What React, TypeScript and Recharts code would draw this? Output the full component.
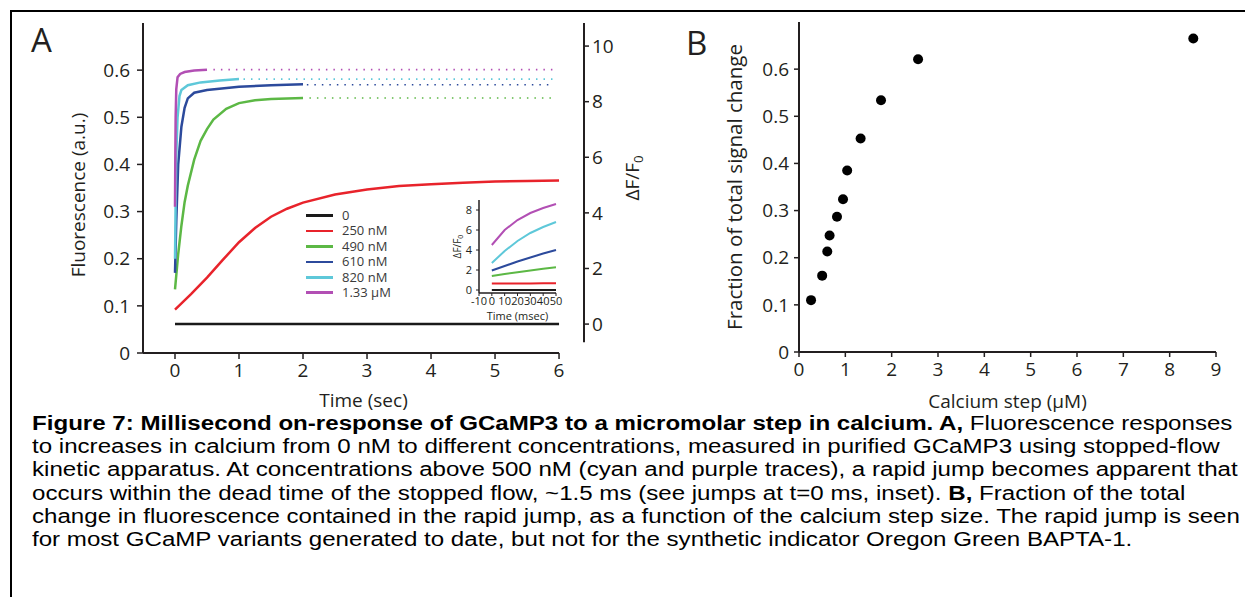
import React from 'react';
import {
  LineChart,
  Line,
  XAxis,
  YAxis,
  Legend,
  Label,
  ReferenceLine,
  ScatterChart,
  Scatter
} from 'recharts';

const FONT = '"Open Sans", sans-serif';
const INK = '#231f20';

// Panel A: stopped-flow traces (time in sec, fluorescence in a.u.)
const t0 = [0, 6];
const f0 = [0.059, 0.059];
const dff0 = [0, 0]; // same trace read on the dF/F0 axis
const t250 = [0, 0.25, 0.5, 0.75, 1, 1.25, 1.5, 1.75, 2, 2.5, 3, 3.5, 4, 4.5, 5, 5.5, 6];
const f250 = [0.092, 0.125, 0.16, 0.198, 0.235, 0.265, 0.289, 0.306, 0.319, 0.336, 0.347, 0.354, 0.358, 0.361, 0.364, 0.365, 0.366];
const t490 = [0, 0.05, 0.1, 0.15, 0.2, 0.3, 0.4, 0.5, 0.6, 0.8, 1, 1.25, 1.5, 2];
const f490 = [0.135, 0.21, 0.27, 0.32, 0.355, 0.41, 0.45, 0.475, 0.495, 0.518, 0.53, 0.536, 0.539, 0.541];
const t610 = [0, 0.02, 0.05, 0.1, 0.15, 0.2, 0.3, 0.5, 1, 1.5, 2];
const f610 = [0.17, 0.28, 0.4, 0.48, 0.52, 0.54, 0.552, 0.558, 0.565, 0.568, 0.57];
const t820 = [0, 0.01, 0.02, 0.04, 0.07, 0.1, 0.2, 0.4, 0.7, 1];
const f820 = [0.2, 0.32, 0.42, 0.5, 0.545, 0.558, 0.568, 0.574, 0.578, 0.581];
const t1330 = [0, 0.005, 0.01, 0.02, 0.04, 0.08, 0.15, 0.3, 0.5];
const f1330 = [0.31, 0.42, 0.5, 0.56, 0.585, 0.592, 0.596, 0.599, 0.601];

// dotted plateau extensions (1.33 uM, 820, 610, 490)
const plateauLevel = [0.601, 0.581, 0.569, 0.541];
const plateauStart = [0.6, 1.07, 2.06, 2.1];
const plateauEnd = [5.9, 5.9, 5.9, 5.9];

const fTicks = [0, 0.1, 0.2, 0.3, 0.4, 0.5, 0.6];
const timeTicks = [0, 1, 2, 3, 4, 5, 6];
const dffTicks = [0, 2, 4, 6, 8, 10];

// inset: first 50 ms, dF/F0
const insetT = [0, 10, 20, 30, 40, 50];
const inset0 = [0, 0, 0, 0, 0, 0];
const inset250 = [0.65, 0.65, 0.66, 0.66, 0.67, 0.67];
const inset490 = [1.4, 1.6, 1.78, 1.95, 2.12, 2.27];
const inset610 = [1.95, 2.4, 2.85, 3.25, 3.65, 4.0];
const inset820 = [2.7, 3.9, 4.9, 5.7, 6.3, 6.8];
const inset1330 = [4.5, 6.0, 7.0, 7.7, 8.2, 8.6];
const insetXTicks = [-10, 0, 10, 20, 30, 40, 50];
const insetYTicks = [0, 2, 4, 6, 8];

// Panel B: fraction of signal in the rapid jump
const stepUM = [0.26, 0.5, 0.61, 0.66, 0.82, 0.95, 1.04, 1.33, 1.77, 2.57, 8.51];
const jumpFrac = [0.11, 0.162, 0.213, 0.247, 0.287, 0.324, 0.385, 0.453, 0.534, 0.621, 0.665];
const bXTicks = [0, 1, 2, 3, 4, 5, 6, 7, 8, 9];

const names = ['0', '250 nM', '490 nM', '610 nM', '820 nM', '1.33 µM'];
const colors = ['#1a1a1a', '#e8232b', '#5cb845', '#2c4a9c', '#5ec8d9', '#b24fb4'];

const zip = (ts: number[], vs: number[]) => ts.map((t, i) => ({ t, v: vs[i] }));

const traces = [zip(t250, f250), zip(t490, f490), zip(t610, f610), zip(t820, f820), zip(t1330, f1330)];
const baseline = zip(t0, dff0);
const insetTraces = [inset0, inset250, inset490, inset610, inset820, inset1330].map((vs) => zip(insetT, vs));
const plateaus = plateauLevel.map((lv, i) => [
  { t: plateauStart[i], v: lv },
  { t: plateauEnd[i], v: lv }
]);
const plateauColors = [colors[5], colors[4], colors[3], colors[2]];
const scatterData = stepUM.map((x, i) => ({ x, y: jumpFrac[i] }));

const vLabel = (text: string, size: number, shift: number) => (props: any) => {
  const { x, y, width, height } = props.viewBox;
  const cx = x + width / 2;
  const cy = y + height / 2 + shift;
  return (
    <text x={cx} y={cy} transform={`rotate(-90 ${cx} ${cy})`} textAnchor="middle" dominantBaseline="central"
      fill={INK} fontSize={size} fontFamily={FONT}>
      {text}
    </text>
  );
};

const dffLabel = (size: number, shift: number) => (props: any) => {
  const { x, y, width, height } = props.viewBox;
  const cx = x + width / 2;
  const cy = y + height / 2 + shift;
  return (
    <text x={cx} y={cy} transform={`rotate(-90 ${cx} ${cy})`} textAnchor="middle" dominantBaseline="central"
      fill={INK} fontSize={size} fontFamily={FONT}>
      {'\u0394F/F'}
      <tspan dy={size * 0.3} fontSize={size * 0.7}>0</tspan>
    </text>
  );
};

const renderLegend = () => (
  <div style={{ fontFamily: FONT, fontSize: 13, lineHeight: '15.4px', color: '#3a3a3a' }}>
    {names.map((n, i) => (
      <div key={n} style={{ display: 'flex', alignItems: 'center', height: 15.4 }}>
        <span style={{ display: 'inline-block', width: 27, height: 2.5, background: colors[i], marginRight: 9 }} />
        {n}
      </div>
    ))}
  </div>
);

const tick19 = { fill: INK, fontSize: 19, fontFamily: FONT };
const axisStroke = { stroke: INK, strokeWidth: 2 };
const tickStroke = { stroke: INK, strokeWidth: 1.5 };

export default function App() {
  return (
    <div style={{ position: 'absolute', left: 0, top: 0, width: 1248, height: 597, background: '#fff', overflow: 'hidden' }}>
      <div style={{ position: 'absolute', left: 10, top: 10, width: 1233, height: 600, borderTop: '2px solid #000', borderLeft: '2px solid #000' }} />
      <div style={{ position: 'absolute', left: 31, top: 23, fontFamily: FONT, fontSize: 33, lineHeight: 1, color: INK }}>A</div>
      <div style={{ position: 'absolute', left: 686, top: 26, fontFamily: FONT, fontSize: 33, lineHeight: 1, color: INK }}>B</div>

      <div style={{ position: 'absolute', left: 0, top: 0 }}>
        <LineChart width={680} height={420} margin={{ top: 23, right: 0, bottom: 13, left: 13 }} style={{ fontFamily: FONT }}>
          <XAxis type="number" dataKey="t" domain={[-0.5, 6.39]} ticks={timeTicks} axisLine={false}
            tickLine={tickStroke} tickSize={6} tickMargin={5} height={54} tick={tick19} allowDataOverflow>
            <Label value="Time (sec)" position="insideBottom" offset={0} fill={INK} fontSize={19} fontFamily={FONT} />
          </XAxis>
          <YAxis yAxisId="f" type="number" domain={[0, 0.7]} ticks={fTicks} width={130} axisLine={axisStroke}
            tickLine={tickStroke} tickSize={6} tickMargin={7} tick={tick19}>
            <Label value="Fluorescence (a.u.)" content={vLabel('Fluorescence (a.u.)', 19, 7)} />
          </YAxis>
          <YAxis yAxisId="dff" orientation="right" type="number" domain={[-1.04, 10.83]} ticks={dffTicks} width={96}
            axisLine={false} tickLine={tickStroke} tickSize={5} tickMargin={3} tick={tick19}>
            <Label value="dF/F0" content={dffLabel(19, -10)} />
          </YAxis>
          <ReferenceLine yAxisId="f" segment={[{ x: -0.5, y: 0 }, { x: 6, y: 0 }]} stroke={INK} strokeWidth={2} />
          <ReferenceLine yAxisId="dff" segment={[{ x: 6.39, y: -0.65 }, { x: 6.39, y: 10.83 }]} stroke={INK} strokeWidth={2} />
          {plateaus.map((d, i) => (
            <Line key={'p' + i} yAxisId="f" data={d} dataKey="v" stroke={plateauColors[i]} strokeWidth={1.6}
              strokeDasharray="1.5 6" dot={false} legendType="none" isAnimationActive={false} />
          ))}
          <Line yAxisId="dff" data={baseline} dataKey="v" name={names[0]} stroke={colors[0]}
            strokeWidth={2.5} dot={false} isAnimationActive={false} />
          {traces.map((d, i) => (
            <Line key={names[i + 1]} yAxisId="f" data={d} dataKey="v" name={names[i + 1]} stroke={colors[i + 1]}
              strokeWidth={2.5} dot={false} isAnimationActive={false} />
          ))}
          <Legend layout="vertical" verticalAlign="middle" align="center" content={renderLegend}
            wrapperStyle={{ left: 306, top: 208, width: 90 }} />
        </LineChart>
      </div>

      <div style={{ position: 'absolute', left: 430, top: 190 }}>
        <LineChart width={140} height={135} margin={{ top: 10, right: 14, bottom: 5, left: 5 }} style={{ fontFamily: FONT }}>
          <XAxis type="number" dataKey="t" domain={[-10, 50]} ticks={insetXTicks} interval={0} height={27}
            axisLine={{ stroke: INK, strokeWidth: 1.5 }} tickLine={{ stroke: INK, strokeWidth: 1 }} tickSize={3} tickMargin={1}
            tick={{ fill: INK, fontSize: 11, fontFamily: FONT }}>
            <Label value="Time (msec)" position="insideBottom" offset={0} fill={INK} fontSize={11} fontFamily={FONT} />
          </XAxis>
          <YAxis type="number" domain={[-0.3, 9]} ticks={insetYTicks} width={44}
            axisLine={{ stroke: INK, strokeWidth: 1.5 }} tickLine={{ stroke: INK, strokeWidth: 1 }} tickSize={3} tickMargin={4}
            tick={{ fill: INK, fontSize: 11, fontFamily: FONT }}>
            <Label value="dF/F0" content={dffLabel(10, 0)} />
          </YAxis>
          {insetTraces.map((d, i) => (
            <Line key={'i' + i} data={d} dataKey="v" stroke={colors[i]} strokeWidth={2} dot={false}
              legendType="none" isAnimationActive={false} />
          ))}
        </LineChart>
      </div>

      <div style={{ position: 'absolute', left: 660, top: 0 }}>
        <ScatterChart width={588} height={420} margin={{ top: 22, right: 32, bottom: 10, left: 9 }} style={{ fontFamily: FONT }}>
          <XAxis type="number" dataKey="x" domain={[0, 9]} ticks={bXTicks} height={58} axisLine={axisStroke}
            tickLine={tickStroke} tickSize={5} tickMargin={6} tick={tick19}>
            <Label value="Calcium step (µM)" position="insideBottom" offset={2} fill={INK} fontSize={19} fontFamily={FONT} />
          </XAxis>
          <YAxis type="number" dataKey="y" domain={[0, 0.7]} ticks={fTicks} width={130} axisLine={axisStroke}
            tickLine={tickStroke} tickSize={5} tickMargin={5} tick={tick19}>
            <Label value="Fraction of total signal change" content={vLabel('Fraction of total signal change', 20.5, 0)} />
          </YAxis>
          <Scatter data={scatterData} fill="#000" isAnimationActive={false}
            shape={(p: any) => <circle cx={p.cx} cy={p.cy} r={5} fill="#000" />} />
        </ScatterChart>
      </div>

      <div style={{ position: 'absolute', left: 32, top: 412, fontFamily: '"Liberation Sans", Arial, sans-serif', fontSize: 20, lineHeight: '23.2px', color: '#000', whiteSpace: 'nowrap', transform: 'scaleX(1.205)', transformOrigin: 'left top' }}>
        <div><b>Figure 7: Millisecond on-response of GCaMP3 to a micromolar step in calcium. A,</b> Fluorescence responses</div>
        <div>to increases in calcium from 0 nM to different concentrations, measured in purified GCaMP3 using stopped-flow</div>
        <div>kinetic apparatus. At concentrations above 500 nM (cyan and purple traces), a rapid jump becomes apparent that</div>
        <div>occurs within the dead time of the stopped flow, ~1.5 ms (see jumps at t=0 ms, inset). <b>B,</b> Fraction of the total</div>
        <div>change in fluorescence contained in the rapid jump, as a function of the calcium step size. The rapid jump is seen</div>
        <div>for most GCaMP variants generated to date, but not for the synthetic indicator Oregon Green BAPTA-1.</div>
      </div>
    </div>
  );
}
